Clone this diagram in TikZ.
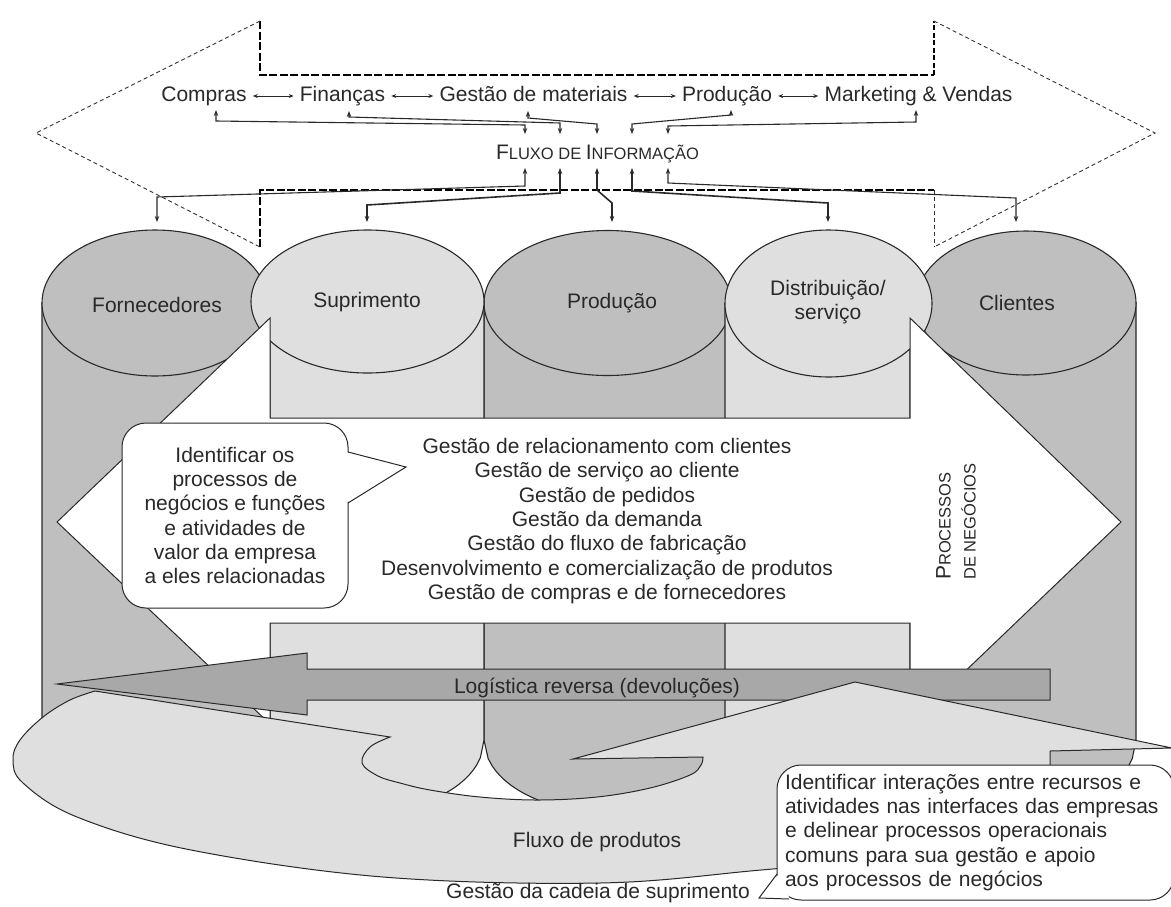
\documentclass[tikz,border=0pt]{standalone}
\usepackage{fontspec}
\setmainfont{Liberation Sans}
\usetikzlibrary{arrows.meta,calc}
\definecolor{cdark}{gray}{0.75}
\definecolor{clight}{gray}{0.875}
\definecolor{crev}{gray}{0.66}
\definecolor{cink}{gray}{0.16}
\newcommand\smc[1]{{\fontsize{16.5}{20}\selectfont #1}}
\begin{document}
\begin{tikzpicture}[x=1pt,y=-1pt,
  every node/.style={font=\fontsize{21}{24.3}\selectfont, text=cink},
  lbl/.style={inner sep=0pt, text height=15pt, text depth=5pt},
  outl/.style={draw=cink, line width=1.1pt},
  conn/.style={draw=cink, line width=1.1pt},
  both/.style={conn, arrows={Stealth[length=6pt,width=4.5pt]-Stealth[length=6pt,width=4.5pt]}},
  dthick/.style={draw=black, line width=2.4pt, dash pattern=on 8pt off 2.5pt},
  dmed/.style={draw=black, line width=1.4pt, dash pattern=on 5pt off 2.5pt},
  dthin/.style={draw=black!80, line width=0.9pt, dash pattern=on 4pt off 3pt},
  bubble/.style={draw=cink, line width=1pt, fill=white, rounded corners=24pt}
]
\useasboundingbox (0,0) rectangle (1171,906);

% ---------- cylinders: outer two first, then the three middle ones ----------
\filldraw[outl, fill=cdark] (42,303) -- plot[domain=42:268, samples=60] (\x,{740+73*sqrt(max(0,1-((\x-155)/113)^2))}) -- (268,303) -- cycle;
\filldraw[outl, fill=cdark] (155,303) ellipse [x radius=113, y radius=73];

\filldraw[outl, fill=cdark] (916,303) -- plot[domain=916:1136, samples=60] (\x,{740+72*sqrt(max(0,1-((\x-1026)/110)^2))}) -- (1136,303) -- cycle;
\filldraw[outl, fill=cdark] (1026,303) ellipse [x radius=110, y radius=72];

\filldraw[outl, fill=cdark] (484,303) -- plot[domain=484:731, samples=60] (\x,{740+72.5*sqrt(max(0,1-((\x-607.5)/123.5)^2))}) -- (731,303) -- cycle;
\filldraw[outl, fill=cdark] (607.5,303) ellipse [x radius=123.5, y radius=72.5];

\filldraw[outl, fill=clight] (270,301.5) -- plot[domain=270:484, samples=60] (\x,{740+71.5*sqrt(max(0,1-((\x-367.5)/116.5)^2))}) -- (484,301.5) -- cycle;
\filldraw[outl, fill=clight] (367.5,301.5) ellipse [x radius=116.5, y radius=71.5];

\filldraw[outl, fill=clight] (725,303.5) -- plot[domain=725:910, samples=60] (\x,{740+73.5*sqrt(max(0,1-((\x-828.5)/103.5)^2))}) -- (910,303.5) -- cycle;
\filldraw[outl, fill=clight] (828.5,303.5) ellipse [x radius=103.5, y radius=73.5];

\node[lbl] (forn) at (157,307) {Fornecedores};
\node[lbl] (supr) at (367,302) {Suprimento};
\node[lbl] (prod) at (612,303) {Produção};
\node[inner sep=0pt, align=center] (dist) at (828,302) {Distribuição/\\serviço};
\node[lbl] (clie) at (1017,305) {Clientes};

% ---------- business processes: white double arrow ----------
\filldraw[draw=cink, line width=1pt, fill=white]
  (270,418) -- (270,318) -- (57,522) -- (270,724) -- (270,623) -- (910,623)
  -- (910,724) -- (1121,522) -- (910,318) -- (910,418) -- cycle;

\node[inner sep=0pt, align=center] (procs) at (607,521) {Gestão de relacionamento com clientes\\
Gestão de serviço ao cliente\\Gestão de pedidos\\Gestão da demanda\\
Gestão do fluxo de fabricação\\Desenvolvimento e comercialização de produtos\\
Gestão de compras e de fornecedores};

\node[rotate=90, anchor=west, align=left, inner sep=0pt, font=\fontsize{16.5}{25}\selectfont] (pn) at (956,580)
  {{\fontsize{21}{25}\selectfont P}ROCESSOS\\DE NEGÓCIOS};

% ---------- reverse logistics ----------
\filldraw[draw=cink, line width=1pt, fill=crev]
  (57,684) -- (307,653) -- (307,669) -- (1050,669) -- (1050,700) -- (307,700) -- (307,715) -- cycle;
\node[lbl] (rev) at (597,688) {Logística reversa (devoluções)};

% ---------- product flow: curved band with head to the right ----------
\filldraw[draw=cink, line width=1pt, fill=clight]
  (95,691) -- (390,737)
  -- plot[smooth, tension=0.6] coordinates {(390,737) (370,747) (362,763) (378,776) (400,783) (430,790) (480,797) (537,800) (597,797) (650,788) (690,775) (701,765) (703,757)}
  -- (573,759) -- (855,682) -- (1172,748) -- (1050,751) -- (1050,838)
  -- plot[smooth, tension=0.6] coordinates {(1050,838) (900,857) (761,870) (600,883) (383,877) (191,850) (77,817) (23,783) (13,760) (20,740) (43,717) (70,700) (95,691)}
  -- cycle;
\node[lbl] (pflow) at (597,842) {Fluxo de produtos};
\node[lbl] (scm) at (598,893) {Gestão da cadeia de suprimento};

% ---------- callouts ----------
\node[bubble, minimum width=226pt, minimum height=185pt, align=center, inner sep=0pt] (note1) at (235,515.5)
  {Identificar os\\processos de\\negócios e funções\\e atividades de\\valor da empresa\\a eles relacionadas};
\coordinate (t1a) at (348,452);
\coordinate (t1) at (406,467);
\coordinate (t1b) at (348,503);
\fill[white] ($(t1a)+(-2,0)$) -- (t1) -- ($(t1b)+(-2,0)$) -- cycle;
\draw[draw=cink, line width=1pt] (t1a) -- (t1) -- (t1b);

\node[bubble, minimum width=397pt, minimum height=135pt, text width=381pt, align=left, inner xsep=8pt, inner ysep=0pt] (note2) at (975.5,832.5)
  {Identificar interações entre recursos e\\atividades nas interfaces das empresas\\e delinear processos operacionais\\comuns para sua gestão e apoio\\aos processos de negócios};
\coordinate (t2a) at (777,874);
\coordinate (t2) at (759,898);
\coordinate (t2b) at (789,899);
\fill[white] ($(t2a)+(2,0)$) -- (t2) -- ($(t2b)+(0,-2)$) -- cycle;
\draw[draw=cink, line width=1pt] (t2a) -- (t2) -- (t2b);

% ---------- information flow: dashed double arrow ----------
\draw[dthick] (260,21) -- (260,75) -- (934,75);
\draw[dmed] (934,75) -- (934,21);
\draw[dthin] (260,21) -- (36,133) -- (260,247);
\draw[dthin] (934,21) -- (1155,133) -- (934,247);
\draw[dthick] (260,247) -- (260,190) -- (934,190);
\draw[dthin] (934,190) -- (934,247);

\node[lbl] (compras) at (204,96) {Compras};
\node[lbl] (financas) at (342.5,96) {Finanças};
\node[lbl] (gestmat) at (533.5,96) {Gestão de materiais};
\node[lbl] (prodtop) at (727,96) {Produção};
\node[lbl] (mkt) at (918.5,96) {Marketing \& Vendas};
\foreach \a/\b in {compras/financas, financas/gestmat, gestmat/prodtop, prodtop/mkt}
  \draw[both, line width=0.9pt, arrows={Stealth[length=5pt,width=4pt]-Stealth[length=5pt,width=4pt]}, shorten <=6pt, shorten >=6pt] (\a) -- (\b);

\node[lbl] (info) at (597.5,154) {F\smc{LUXO DE }I\smc{NFORMAÇÃO}};

% links from the information flow up to the functions
\draw[both] (216,110) -- (216,121) -- (525,125) -- (525,134);
\draw[both] (349,111) -- (349,117) -- (560,123) -- (560,134);
\draw[both] (528,111) -- (528,118) -- (597,124) -- (597,134);
\draw[both] (731,110) -- (731,115) -- (632,124) -- (632,134);
\draw[both] (916,110) -- (916,122) -- (668,126) -- (668,134);

% links from the information flow down to the chain members
\draw[both] (525,168) -- (525,186) -- (157,197) -- (157,222);
\draw[both, line width=1.6pt] (560,168) -- (560,193) -- (367,205) -- (367,222);
\draw[both, line width=1.6pt] (597,168) -- (597,190) -- (612,203) -- (612,222);
\draw[both, line width=1.6pt] (632,168) -- (632,191) -- (828,203) -- (828,222);
\draw[both] (668,168) -- (668,183) -- (1016,198) -- (1016,222);
\end{tikzpicture}
\end{document}
